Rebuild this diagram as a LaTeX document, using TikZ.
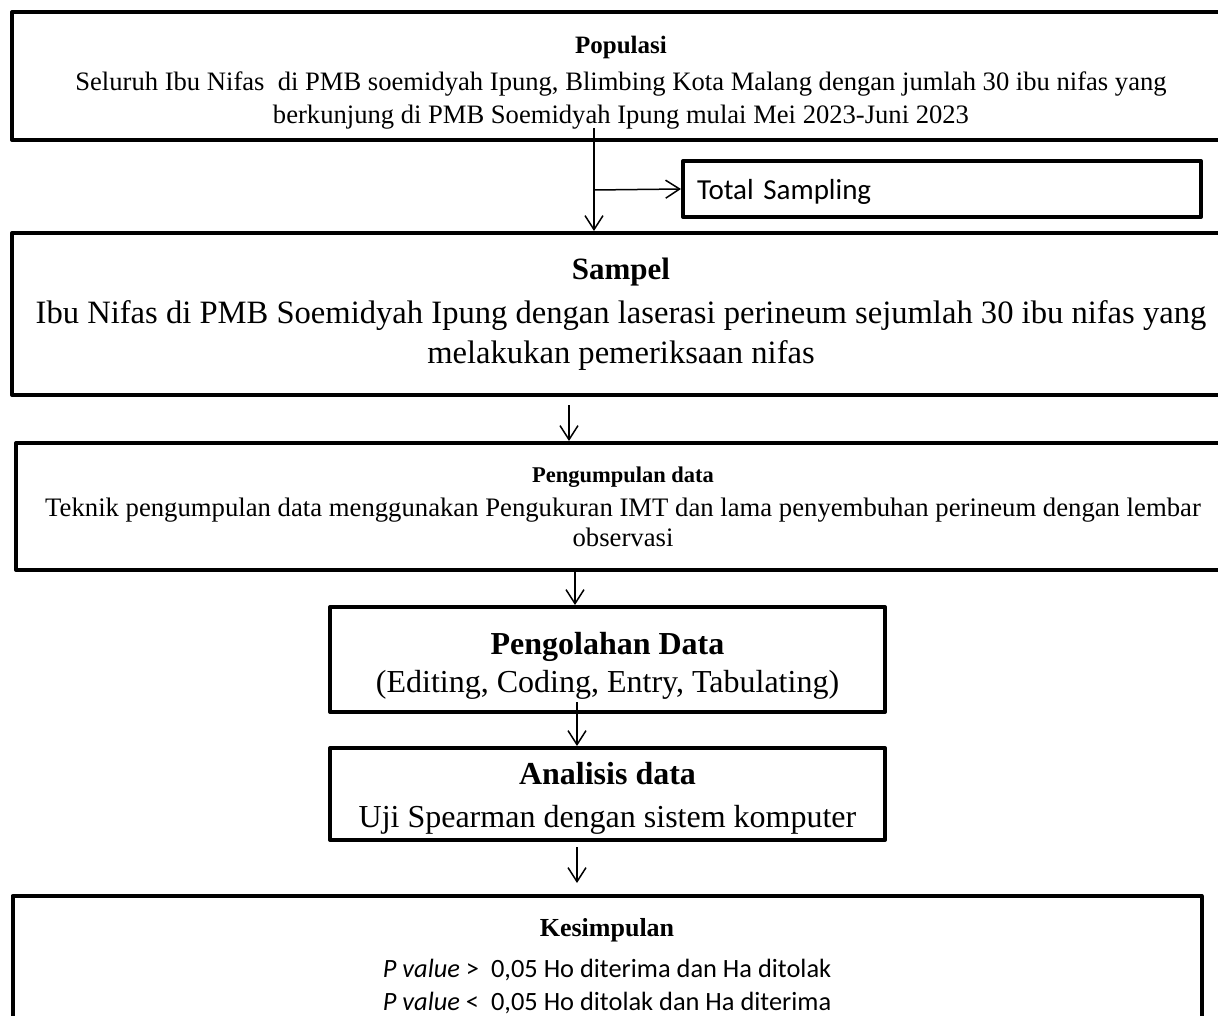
\documentclass[tikz,border=0pt]{standalone}
\usepackage{fontspec}
\setmainfont{Liberation Serif}
\newfontfamily\calibri{Carlito}
\usetikzlibrary{arrows.meta}
\begin{document}
\begin{tikzpicture}[x=1pt,y=-1pt,
  box/.style={draw, line width=4pt, line join=round, align=center, inner sep=0pt},
  arr/.style={line width=1.5pt, -{Straight Barb[length=14pt,width=18pt,line width=1.5pt]}}]
\useasboundingbox (0,0) rectangle (1218,1016);
\clip (0,0) rectangle (1218,1016);
\node[box, minimum width=1218pt, minimum height=128pt, font=\fontsize{26.6}{33}\selectfont] (pop) at (621,76) {\rule{0pt}{31pt}{\bfseries\fontsize{25}{33}\selectfont Populasi}\\[4pt] Seluruh Ibu Nifas\ \ di PMB soemidyah Ipung, Blimbing Kota Malang dengan jumlah 30 ibu nifas yang\\ berkunjung di PMB Soemidyah Ipung mulai Mei 2023-Juni 2023};
\node[box, minimum width=518pt, minimum height=56pt, font=\calibri\fontsize{29}{34}\selectfont, text width=490pt, align=left] (ts) at (942,189) {\rule{0pt}{26pt}Total Sampling};
\node[box, minimum width=1218pt, minimum height=162pt, font=\fontsize{32.6}{40}\selectfont] (sam) at (621,314) {{\bfseries\fontsize{31}{40}\selectfont Sampel}\\[4pt] Ibu Nifas di PMB Soemidyah Ipung dengan laserasi perineum sejumlah 30 ibu nifas yang\\ melakukan pemeriksaan nifas};
\node[box, minimum width=1214pt, minimum height=127pt, font=\fontsize{26.7}{30}\selectfont] (pgd) at (623,506.5) {{\bfseries\fontsize{22.5}{30}\selectfont Pengumpulan data}\\[4pt] Teknik pengumpulan data menggunakan Pengukuran IMT dan lama penyembuhan perineum dengan lembar\\ observasi};
\node[box, minimum width=555pt, minimum height=105pt, font=\fontsize{32}{38}\selectfont] (olah) at (607.5,659.5) {\rule{0pt}{34pt}{\bfseries Pengolahan Data}\\ (Editing, Coding, Entry, Tabulating)};
\node[box, minimum width=555pt, minimum height=92pt, font=\fontsize{32}{43}\selectfont] (anl) at (607.5,794) {\rule{0pt}{30pt}{\bfseries Analisis data}\\ Uji Spearman dengan sistem komputer};
\node[box, minimum width=1189pt, minimum height=134pt, font=\calibri\fontsize{26.4}{33}\selectfont] (kes) at (607,963) {\rule{0pt}{24pt}{\rmfamily\bfseries\fontsize{26}{30}\selectfont Kesimpulan}\\[8pt] \textit{P value} >\ \ 0,05 Ho diterima dan Ha ditolak\\ \textit{P value} <\ \ 0,05 Ho ditolak dan Ha diterima};
\coordinate (c1) at (594,128);
\coordinate (c2) at (594,190);
\coordinate (c3) at (569,405);
\coordinate (c4) at (575,570);
\coordinate (c5) at (577,702);
\coordinate (c6) at (577,847);
\coordinate (c7) at (577,883);
\draw[arr] (c1) -- (c1 |- sam.north);
\draw[arr] (c2) -- (ts.west);
\draw[arr] (c3) -- (c3 |- pgd.north);
\draw[arr] (c4) -- (c4 |- olah.north);
\draw[arr] (c5) -- (c5 |- anl.north);
\draw[arr] (c6) -- (c7);
\end{tikzpicture}
\end{document}
